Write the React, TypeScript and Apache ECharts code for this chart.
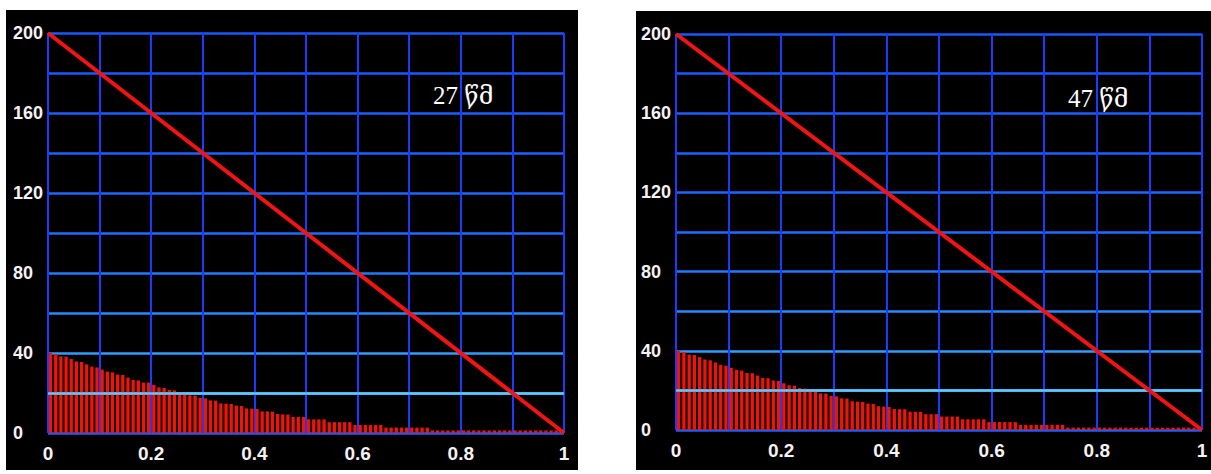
import React, { useEffect, useRef } from "react";
import * as echarts from "echarts";

// ---- data ----
const xTickLabels = ["0", "0.2", "0.4", "0.6", "0.8", "1"];
const yTickLabels = ["0", "40", "80", "120", "160", "200"];
const panelLabels = ["27 წმ", "47 წმ"];

// diagonal red trace (x, y)
const diagonal = [
  [0, 200],
  [1, 0],
];

// bar heights, 100 bars, left panel (27 s)
const leftBars = [
  40, 39.5, 38.3, 38.2, 37, 35.8, 35.5, 34.3, 33.2, 32.8,
  31.7, 30.7, 30.3, 29.2, 29, 27.7, 26.5, 26.3, 25.2, 25.2,
  24, 22.8, 22.5, 21.5, 21.3, 20.2, 19.8, 18.8, 18.7, 17.5,
  17.3, 16.3, 16.2, 14.8, 14.7, 14.5, 13.7, 13.5, 12.3, 12.2,
  12, 10.8, 10.8, 10.7, 9.5, 9.3, 9.2, 8, 8, 8,
  6.8, 6.8, 6.8, 6.8, 5.4, 5.4, 5.4, 5.4, 5.4, 4,
  4, 4, 4, 4, 4, 2.7, 2.7, 2.7, 2.7, 2.7,
  2.7, 2.7, 2.7, 2.7, 1.3, 1.3, 1.3, 1.3, 1.3, 1.3,
  1.3, 1.3, 1.3, 1.3, 1.3, 1.3, 1.3, 1.3, 1.3, 1.3,
  1.3, 1.3, 1.3, 1.3, 1.3, 1.3, 1.3, 1.3, 1.3, 1.3,
];

// bar heights, 100 bars, right panel (47 s)
const rightBars = [
  40, 39.3, 38.1, 37.9, 36.8, 35.6, 35.2, 34.1, 32.9, 32.5,
  31.4, 30.4, 30, 28.8, 28.7, 27.5, 26.3, 26.1, 25, 24.8,
  23.6, 22.6, 22.4, 21.2, 20.9, 19.9, 19.7, 18.5, 18.4, 17.2,
  17, 16, 15.9, 14.5, 14.3, 14.2, 13.3, 13.2, 12, 11.8,
  11.6, 10.6, 10.5, 10.5, 9.2, 9.2, 9.2, 8, 8, 8,
  6.8, 6.8, 6.8, 6.8, 5.4, 5.4, 5.4, 5.4, 5.4, 4,
  4, 4, 4, 4, 4, 2.6, 2.6, 2.6, 2.6, 2.6,
  2.6, 2.6, 2.6, 2.6, 1.2, 1.2, 1.2, 1.2, 1.2, 1.2,
  1.2, 1.2, 1.2, 1.2, 1.2, 1.2, 1.2, 1.2, 1.2, 1.2,
  1.2, 1.2, 1.2, 1.2, 1.2, 1.2, 1.2, 1.2, 1.2, 1.2,
];

const BAR_STEP = 0.01; // bars sit in the middle of each 0.01 slot

type PanelCfg = {
  bars: number[];
  label: string;
  grid: { left: number; top: number; right: number; bottom: number };
  textPos: { left: number; top: number };
};

const LABEL_FONT = '"Liberation Sans", Arial, sans-serif';

function buildOption(cfg: PanelCfg) {
  const barData = cfg.bars.map((v, i) => [(i + 0.5) * BAR_STEP, v]);
  const hColors = [
    "#1f5cff", // 0
    "#3cb6ff", // 20
    "#2f9cff", // 40
    "#2a88ff", // 60
    "#2278ff", // 80
    "#1f6cff", // 100
    "#1d66ff", // 120
    "#1c62ff", // 140
    "#1b5eff", // 160
    "#1a5aff", // 180
    "#1a58ff", // 200
  ];
  return {
    animation: false,
    backgroundColor: "#000000",
    grid: { ...cfg.grid, containLabel: false },
    xAxis: {
      type: "value",
      min: 0,
      max: 1,
      interval: 0.1,
      axisLine: { show: false },
      axisTick: { show: false },
      splitLine: { show: true, lineStyle: { color: "#1a3cff", width: 2 } },
      axisLabel: {
        margin: 11,
        color: "#f6f2f2",
        fontFamily: LABEL_FONT,
        fontWeight: "bold",
        fontSize: 19,
        formatter: (v: number) => {
          const s = String(Math.round(v * 10) / 10);
          return xTickLabels.includes(s) ? s : "";
        },
      },
    },
    yAxis: {
      type: "value",
      min: 0,
      max: 200,
      interval: 20,
      axisLine: { show: false },
      axisTick: { show: false },
      splitLine: { show: true, lineStyle: { color: hColors, width: 2.5 } },
      axisLabel: {
        align: "left",
        margin: 35,
        padding: [0, 0, 8, 0],
        color: "#f6f2f2",
        fontFamily: LABEL_FONT,
        fontWeight: "bold",
        fontSize: 18,
        formatter: (v: number) => {
          const s = String(Math.round(v));
          return yTickLabels.includes(s) ? s : "";
        },
      },
    },
    graphic: [
      {
        type: "text",
        left: cfg.textPos.left,
        top: cfg.textPos.top,
        style: {
          text: cfg.label,
          fill: "#ffffff",
          fontSize: 25,
          fontFamily: '"Liberation Serif", "DejaVu Serif", serif',
        },
        z: 10,
      },
    ],
    series: [
      {
        type: "bar",
        data: barData,
        barWidth: 3.3,
        itemStyle: { color: "#f01408" },
        z: 2,
        markLine: {
          silent: true,
          symbol: "none",
          label: { show: false },
          lineStyle: { color: "#5cc8ff", width: 2.5, type: "solid", opacity: 1 },
          data: [{ yAxis: 20 }],
        },
      },
      {
        type: "line",
        data: diagonal,
        symbol: "none",
        lineStyle: { color: "#f01414", width: 4 },
        z: 5,
      },
    ],
  };
}

function Panel(props: {
  cfg: PanelCfg;
  box: { left: number; top: number; width: number; height: number };
}) {
  const ref = useRef<HTMLDivElement>(null);
  useEffect(() => {
    if (!ref.current) return;
    const chart = echarts.init(ref.current, undefined, { renderer: "svg" });
    chart.setOption(buildOption(props.cfg) as any);
    return () => chart.dispose();
  }, []);
  return (
    <div
      ref={ref}
      style={{
        position: "absolute",
        left: props.box.left,
        top: props.box.top,
        width: props.box.width,
        height: props.box.height,
        background: "#000",
      }}
    />
  );
}

export default function App() {
  return (
    <div
      style={{
        position: "absolute",
        left: 0,
        top: 0,
        width: 1211,
        height: 474,
        background: "#ffffff",
        overflow: "hidden",
      }}
    >
      <Panel
        box={{ left: 6, top: 10, width: 572, height: 460 }}
        cfg={{
          bars: leftBars,
          label: panelLabels[0],
          grid: { left: 42, top: 23, right: 14, bottom: 37 },
          textPos: { left: 427, top: 73 },
        }}
      />
      <Panel
        box={{ left: 636, top: 11, width: 575, height: 459 }}
        cfg={{
          bars: rightBars,
          label: panelLabels[1],
          grid: { left: 40, top: 23, right: 9, bottom: 40 },
          textPos: { left: 432, top: 75 },
        }}
      />
    </div>
  );
}
